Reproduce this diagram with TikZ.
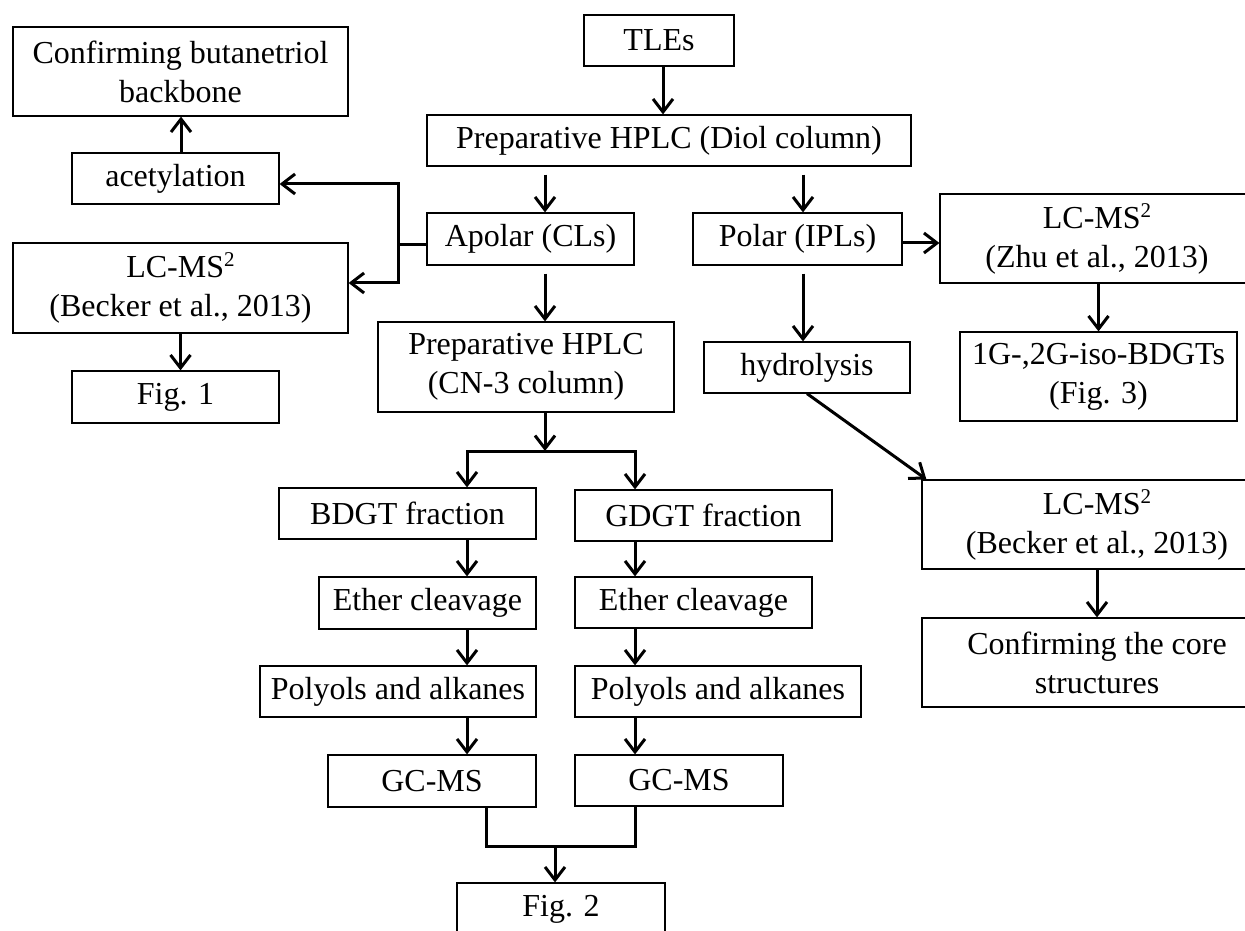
\documentclass[tikz,border=0pt]{standalone}
\usepackage{fontspec}
\setmainfont{Liberation Serif}
\usetikzlibrary{arrows.meta,calc}
\newcommand{\sqd}{\raisebox{0.75ex}{\fontsize{10.5}{10.5}\selectfont 2}}
\tikzset{
  x=0.5pt, y=-0.5pt,
  box/.style={draw, line width=0.6pt, inner sep=0pt, align=center,
    font=\fontsize{16}{19.5}\selectfont},
  arr/.style={line width=1.5pt, line join=miter,
    -{Straight Barb[length=6.5pt,width=10pt,line width=1.5pt]}},
  con/.style={line width=1.5pt, line join=miter}
}
\begin{document}
\begin{tikzpicture}
\fill[white] (0,0) rectangle (1245,930);
\useasboundingbox (0,0) rectangle (1245,930);
\begin{scope}
\clip (0,0) rectangle (1245,930);
% nodes
\node[box, minimum width=167.5pt, minimum height=44.5pt] (conf) at (180.5,71.5) {Confirming butanetriol\\backbone};
\node[box, minimum width=103.5pt, minimum height=25.5pt] (acet) at (175.5,178.5) {acetylation};
\node[box, minimum width=167.5pt, minimum height=45pt] (lcL) at (180.5,288) {LC-MS\sqd\\(Becker et al., 2013)};
\node[box, minimum width=103.5pt, minimum height=26pt] (fig1) at (175.5,397) {Fig. 1};
\node[box, minimum width=75pt, minimum height=25.5pt] (tles) at (659,40.5) {TLEs};
\node[box, minimum width=242pt, minimum height=25.5pt] (diol) at (669,140.5) {Preparative HPLC (Diol column)};
\node[box, minimum width=103.5pt, minimum height=26pt] (apolar) at (530.5,239) {Apolar (CLs)};
\node[box, minimum width=104.5pt, minimum height=26pt] (polar) at (797.5,239) {Polar (IPLs)};
\node[box, minimum width=157pt, minimum height=44.5pt] (lcZ) at (1097,238.5) {LC-MS\sqd\\(Zhu et al., 2013)};
\node[box, minimum width=138.5pt, minimum height=44.5pt] (fig3) at (1098.5,376.5) {1G-,2G-iso-BDGTs\\(Fig. 3)};
\node[box, minimum width=148pt, minimum height=45pt] (cn3) at (526,367) {Preparative HPLC\\(CN-3 column)};
\node[box, minimum width=103pt, minimum height=25.5pt] (hydro) at (807,367.5) {hydrolysis};
\node[box, minimum width=128.5pt, minimum height=25.5pt] (bdgt) at (407.5,513.5) {BDGT fraction};
\node[box, minimum width=128.5pt, minimum height=25.5pt] (gdgt) at (703.5,515.5) {GDGT fraction};
\node[box, minimum width=175pt, minimum height=44.5pt] (lcR) at (1097,524.5) {LC-MS\sqd\\(Becker et al., 2013)};
\node[box, minimum width=175pt, minimum height=44.5pt] (core) at (1097,662.5) {Confirming the core\\structures};
\node[box, minimum width=108.5pt, minimum height=26pt] (etherL) at (427.5,603) {Ether cleavage};
\node[box, minimum width=118.5pt, minimum height=25.5pt] (etherR) at (693.5,602.5) {Ether cleavage};
\node[box, minimum width=138pt, minimum height=25.5pt] (polyL) at (398,691.5) {Polyols and alkanes};
\node[box, minimum width=143pt, minimum height=25.5pt] (polyR) at (718,691.5) {Polyols and alkanes};
\node[box, minimum width=104pt, minimum height=26pt] (gcL) at (432,781) {GC-MS};
\node[box, minimum width=104pt, minimum height=25.5pt] (gcR) at (679,780.5) {GC-MS};
\node[box, minimum width=104pt, minimum height=26pt] (fig2) at (561,909) {Fig. 2};
% helper coordinates
\coordinate (jt) at (398,184);
\coordinate (jb) at (398,283);
\coordinate (sp) at (545,451);
\coordinate (cl) at (467,0);
\coordinate (cr) at (635,0);
\coordinate (ml) at (486,0);
\coordinate (mb) at (0,846);
\coordinate (mc) at (555,846);
% connectors
\draw[arr] ([xshift=2pt]tles.south) -- ([xshift=2pt]tles.south |- diol.north);
\draw[arr, shorten <=4pt] ([xshift=7.25pt]apolar.north |- diol.south) -- ([xshift=7.25pt]apolar.north);
\draw[arr, shorten <=4pt] ([xshift=2.75pt]polar.north |- diol.south) -- ([xshift=2.75pt]polar.north);
\draw[arr, shorten <=4pt] ([xshift=7.25pt]apolar.south) -- ([xshift=7.25pt]apolar.south |- cn3.north);
\draw[arr, shorten <=4pt] ([xshift=2.75pt]polar.south) -- ([xshift=2.75pt]polar.south |- hydro.north);
\draw[arr] ([yshift=-2pt]polar.east) -- ([yshift=-2pt]polar.east -| lcZ.west);
\draw[arr] (lcZ.south -| fig3.north) -- (fig3.north);
\draw[arr] (hydro.south) -- ([xshift=2.5pt]lcR.north west);
\draw[arr] (lcR.south) -- (core.north);
% apolar to left branch
\draw[con] ([yshift=-3pt]apolar.west) -- ([yshift=-3pt]apolar.west -| jt);
\draw[arr] (jb) -- (jt) -- (jt -| acet.east);
\draw[arr] (jt) -- (jb) -- (jb -| lcL.east);
\draw[arr] ([xshift=2.75pt]acet.north) -- ([xshift=2.75pt]acet.north |- conf.south);
\draw[arr] (lcL.south) -- (lcL.south |- fig1.north);
% split below CN-3
\draw[arr] (cn3.south -| sp) -- (sp);
\draw[arr] (sp -| cr) -- (sp -| cl) -- (bdgt.north -| cl);
\draw[arr] (sp -| cl) -- (sp -| cr) -- (gdgt.north -| cr);
% columns
\draw[arr] (bdgt.south -| cl) -- (etherL.north -| cl);
\draw[arr] (etherL.south -| cl) -- (polyL.north -| cl);
\draw[arr] (polyL.south -| cl) -- (gcL.north -| cl);
\draw[arr] (gdgt.south -| cr) -- (etherR.north -| cr);
\draw[arr] (etherR.south -| cr) -- (polyR.north -| cr);
\draw[arr] (polyR.south -| cr) -- (gcR.north -| cr);
% merge
\draw[con] (gcL.south -| ml) -- (ml |- mb) -- (cr |- mb) -- (gcR.south -| cr);
\draw[arr] (mc) -- (fig2.north -| mc);
\end{scope}
\end{tikzpicture}
\end{document}
